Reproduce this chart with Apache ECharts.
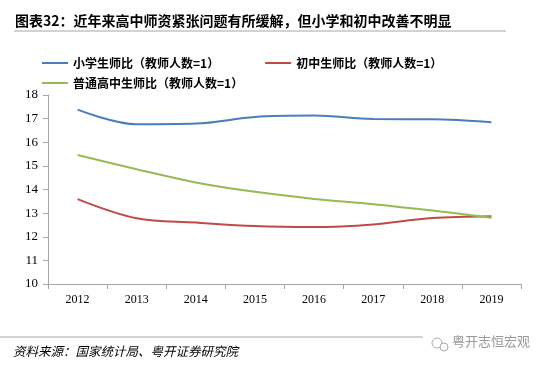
<!DOCTYPE html>
<html><head><meta charset="utf-8">
<script src="https://cdn.jsdelivr.net/npm/echarts@6/dist/echarts.min.js"></script>
<style>html,body{margin:0;padding:0;background:#fff}#c{width:550px;height:366px}</style>
</head><body><div id="c"></div>
<script>
const years = ['2012','2013','2014','2015','2016','2017','2018','2019'];
const primary = [17.38, 16.76, 16.79, 17.07, 17.13, 16.98, 16.97, 16.85];
const junior = [13.59, 12.78, 12.60, 12.45, 12.41, 12.52, 12.79, 12.87];
const senior = [15.46, 14.86, 14.30, 13.90, 13.60, 13.38, 13.11, 12.80];
const names = ['小学生师比（教师人数=1）','初中生师比（教师人数=1）','普通高中生师比（教师人数=1）'];
const colors = ['#4a7ebb','#be4b48','#98b954'];
const serif = '"Liberation Serif", "Times New Roman", serif';
const cjk = '"Noto Sans CJK SC", sans-serif';

const chart = echarts.init(document.getElementById('c'), null, {renderer:'canvas'});
const mk = (i, data) => ({
  name: names[i], type:'line', data, smooth:0.35, symbol:'none',
  lineStyle:{color:colors[i], width:2}, itemStyle:{color:colors[i]}
});
const legendText = {fontFamily:cjk, fontSize:12, fontWeight:'bold', color:'#000'};
chart.setOption({
  animation:false,
  grid:{left:48, right:29, top:95, bottom:82},
  legend:[
    {data:[names[0],names[1]], left:37, top:52, itemWidth:26, itemHeight:2, icon:'rect', itemGap:46, textStyle:legendText},
    {data:[names[2]], left:37, top:72, itemWidth:26, itemHeight:2, icon:'rect', textStyle:legendText}
  ],
  xAxis:{type:'category', data:years, boundaryGap:true,
    axisLine:{lineStyle:{color:'#a6a6a6', width:1}},
    axisTick:{show:true, length:5, lineStyle:{color:'#a6a6a6'}},
    axisLabel:{fontFamily:serif, fontSize:12, color:'#000', margin:10}},
  yAxis:{type:'value', min:10, max:18, interval:1,
    axisLine:{show:true, lineStyle:{color:'#a6a6a6', width:1}},
    axisTick:{show:true, length:5, lineStyle:{color:'#a6a6a6'}},
    splitLine:{show:false},
    axisLabel:{fontFamily:serif, fontSize:13, color:'#000', margin:10}},
  series:[mk(0,primary), mk(1,junior), mk(2,senior)],
  graphic:[
    {type:'text', left:15, top:14, style:{text:'图表32：近年来高中师资紧张问题有所缓解，但小学和初中改善不明显', fontFamily:cjk, fontSize:14, fontWeight:'bold', fill:'#000'}},
    {type:'line', shape:{x1:14, y1:31, x2:506, y2:31}, style:{stroke:'#a6a6a6', lineWidth:1}},
    {type:'line', shape:{x1:0, y1:337, x2:423, y2:337}, style:{stroke:'#a6a6a6', lineWidth:1}},
    {type:'text', left:13, top:345, style:{text:'资料来源：国家统计局、粤开证券研究院', fontFamily:cjk, fontSize:12.5, fontStyle:'italic', fill:'#000'}},
    {type:'circle', shape:{cx:437, cy:343, r:5}, style:{fill:'none', stroke:'#aaa', lineWidth:1}},
    {type:'circle', shape:{cx:444, cy:347, r:4}, style:{fill:'#fff', stroke:'#aaa', lineWidth:1}},
    {type:'text', left:452, top:335, style:{text:'粤开志恒宏观', fontFamily:cjk, fontSize:13, fill:'#999'}}
  ]
});
</script></body></html>
